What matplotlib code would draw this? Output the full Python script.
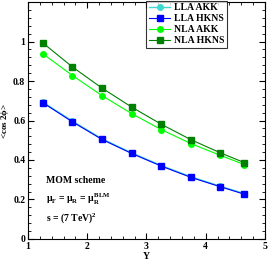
import numpy as np
import matplotlib
matplotlib.use('Agg')
import matplotlib.pyplot as plt
from matplotlib.ticker import MultipleLocator

# rapidity values
Y = [1.25, 1.75, 2.25, 2.75, 3.25, 3.75, 4.25, 4.65]

lla_akk = [0.693, 0.597, 0.507, 0.436, 0.372, 0.315, 0.267, 0.230]
lla_hkns = [0.690, 0.593, 0.504, 0.433, 0.369, 0.312, 0.264, 0.227]
nla_akk = [0.938, 0.828, 0.726, 0.635, 0.554, 0.483, 0.423, 0.377]
nla_hkns = [0.993, 0.871, 0.764, 0.668, 0.581, 0.503, 0.436, 0.387]

labels = ['LLA AKK', 'LLA HKNS', 'NLA AKK', 'NLA HKNS']

plt.rcParams['font.family'] = ['Liberation Serif', 'DejaVu Serif']
plt.rcParams['font.weight'] = 'bold'
plt.rcParams['mathtext.fontset'] = 'custom'
plt.rcParams['mathtext.rm'] = 'Liberation Serif:bold'
plt.rcParams['mathtext.it'] = 'Liberation Serif:bold'

fig = plt.figure(figsize=(2.7, 2.6), dpi=100)
ax = fig.add_axes([0.104, 0.081, 0.877, 0.911])

ax.plot(Y, lla_akk, '-o', color='#40d8d0', ms=4, lw=1.0, label=labels[0])
ax.plot(Y, lla_hkns, '-s', color='#0000ff', ms=4, lw=0.8, label=labels[1])
ax.plot(Y, nla_akk, '-o', color='#00ff00', ms=4, lw=0.8, label=labels[2])
ax.plot(Y, nla_hkns, '-s', color='#008000', mfc='#008000', ms=4, lw=0.8, label=labels[3])

ax.set_xlim(1, 5)
ax.set_ylim(0, 1.2)
ax.set_xticks([1, 2, 3, 4, 5])
ax.set_yticks([0, 0.2, 0.4, 0.6, 0.8, 1])
ax.set_yticklabels(['0', '0.2', '0.4', '0.6', '0.8', '1'])
ax.xaxis.set_minor_locator(MultipleLocator(0.2))
ax.yaxis.set_minor_locator(MultipleLocator(0.04))
ax.tick_params(which='both', direction='in', top=True, right=True, labelsize=7, pad=2)
ax.tick_params(which='major', length=4, width=0.8)
ax.tick_params(which='minor', length=2, width=0.6)
for s in ax.spines.values():
    s.set_linewidth(0.8)

ax.set_xlabel('Y', fontsize=7, fontweight='bold', va='top')
ax.xaxis.set_label_coords(0.5, -0.055)
ax.set_ylabel(r'<cos 2$\phi$>', fontsize=6.5, fontweight='bold', va='center')
ax.yaxis.set_label_coords(-0.097, 0.5)

leg = ax.legend(loc='upper center', bbox_to_anchor=(0.67, 1.005), fontsize=7,
                frameon=True, fancybox=False, edgecolor='black',
                borderpad=0.25, labelspacing=0.2, handlelength=2.2,
                handletextpad=0.4, borderaxespad=0)
leg.get_frame().set_linewidth(0.8)

ax.text(0.075, 0.235, 'MOM scheme', transform=ax.transAxes, fontsize=7, fontweight='bold')
ax.text(0.075, 0.155, r'$\mu_F$ = $\mu_R$ = $\mu_R^{BLM}$', transform=ax.transAxes, fontsize=7)
ax.text(0.075, 0.075, r's = (7 TeV)$^2$', transform=ax.transAxes, fontsize=7)

fig.savefig('out.png', dpi=100)
